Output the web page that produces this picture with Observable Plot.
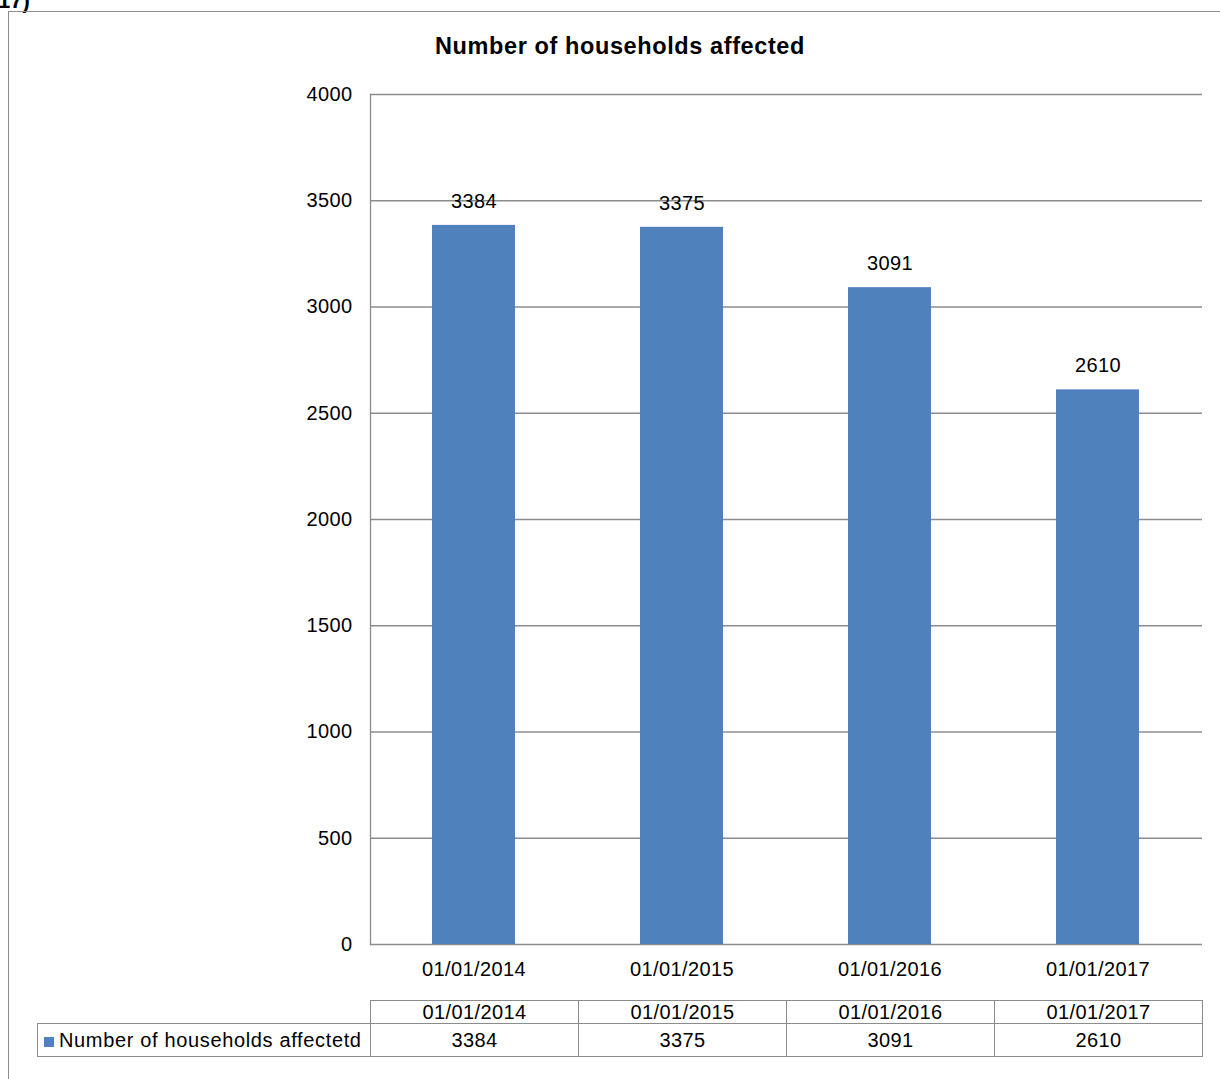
<!DOCTYPE html>
<html>
<head>
<meta charset="utf-8">
<script src="https://cdn.jsdelivr.net/npm/d3@7"></script>
<script src="https://cdn.jsdelivr.net/npm/@observablehq/plot@0.6"></script>
<style>
  html, body { margin: 0; padding: 0; background: #fff; }
  body { width: 1220px; height: 1079px; overflow: hidden; position: relative; font-family: "Liberation Sans", Arial, sans-serif; }
  #num { position: absolute; left: -2px; top: -12px; font-weight: bold; font-size: 22px; color: #000; }
  #border { position: absolute; left: 8px; top: 11px; width: 1300px; height: 1200px; border-left: 1px solid #8c8c8c; border-top: 1px solid #8c8c8c; }
  #title { position: absolute; left: 0; width: 1240px; top: 33px; text-align: center; font-weight: bold; font-size: 23.5px; letter-spacing: 0.6px; color: #000; }
  #chart { position: absolute; left: 0; top: 0; }
  #tbl { position: absolute; left: 37px; top: 1000px; width: 1165px; table-layout: fixed; border-collapse: collapse; font-size: 20px; letter-spacing: 0.4px; color: #000; }
  #tbl td { border: 1.5px solid #8c8c8c; padding: 0; text-align: center; }
  #tbl tr.head td { height: 22px; line-height: 22px; }
  #tbl tr.row td { height: 32px; line-height: 32px; }
  #tbl td.blank { border: none; border-right: 1.5px solid #8c8c8c; }
  #tbl td.leg { text-align: left; padding-left: 6px; white-space: nowrap; letter-spacing: 0.65px; }
  .sw { display: inline-block; width: 10px; height: 10px; background: #4F81BD; margin-right: 5px; vertical-align: 0px; }
</style>
</head>
<body>
<div id="num">17)</div>
<div id="border"></div>
<div id="chart"></div>
<div id="title">Number of households affected</div>
<table id="tbl"><colgroup><col style="width:333px"><col style="width:208px"><col style="width:208px"><col style="width:208px"><col style="width:208px"></colgroup></table>
<script>
const dates = ["01/01/2014", "01/01/2015", "01/01/2016", "01/01/2017"];
const values = [3384, 3375, 3091, 2610];
const seriesName = "Number of households affectetd";
const yTicks = [0, 500, 1000, 1500, 2000, 2500, 3000, 3500, 4000];

const data = dates.map((d, i) => ({date: d, value: values[i]}));
const gray = "#8c8c8c";

const chart = Plot.plot({
  width: 1220,
  height: 990,
  marginTop: 94,
  marginLeft: 370,
  marginRight: 18,
  marginBottom: 46,
  style: {fontFamily: "'Liberation Sans', Arial, sans-serif", fontSize: "20px", color: "#000", background: "transparent", letterSpacing: "0.4px"},
  x: {domain: dates, paddingInner: 0.6, paddingOuter: 0.3, label: null},
  y: {domain: [0, 4000], label: null},
  marks: [
    Plot.gridY(yTicks, {stroke: gray, strokeOpacity: 1, strokeWidth: 1.3}),
    Plot.frame({anchor: "left", stroke: gray, strokeWidth: 1.3}),
    Plot.barY(data, {x: "date", y: "value", fill: "#4F81BD"}),
    Plot.text(data, {x: "date", y: "value", text: d => String(d.value), dy: -24, fontSize: 20, fill: "#000"}),
    Plot.axisY(yTicks, {tickSize: 0, tickPadding: 18, tickFormat: d => String(d), label: null, fontSize: 20, fill: "#000"}),
    Plot.axisX({tickSize: 0, tickPadding: 17, label: null, fontSize: 20, fill: "#000"})
  ]
});
document.getElementById("chart").appendChild(chart);

// data table under the chart
const tbl = d3.select("#tbl");
const head = tbl.append("tr").attr("class", "head");
head.append("td").attr("class", "blank");
dates.forEach(d => head.append("td").text(d));
const row = tbl.append("tr").attr("class", "row");
const leg = row.append("td").attr("class", "leg");
leg.append("span").attr("class", "sw");
leg.append("span").text(seriesName);
values.forEach(v => row.append("td").text(String(v)));
</script>
</body>
</html>
